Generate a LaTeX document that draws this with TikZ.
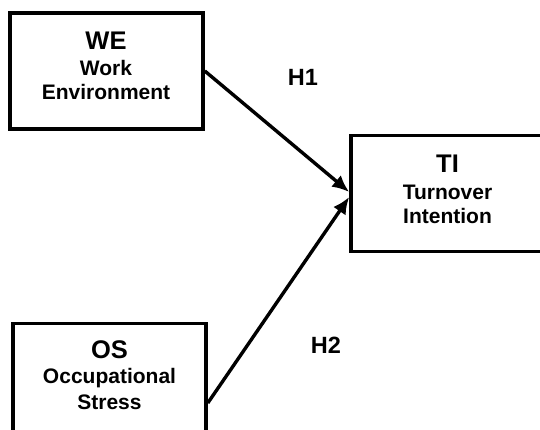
\documentclass[tikz,border=0pt]{standalone}
\usepackage{fontspec}
\setmainfont{Liberation Sans}
\usetikzlibrary{arrows.meta}
\begin{document}
\begin{tikzpicture}[x=1pt,y=-1pt,
  box/.style={draw=black,line width=3.6pt,rectangle,minimum width=193pt,minimum height=116pt,inner sep=0pt},
  ttl/.style={anchor=base,inner sep=0pt,font=\bfseries\fontsize{25.5}{30}\selectfont},
  sub/.style={anchor=base,inner sep=0pt,font=\bfseries\fontsize{21}{25}\selectfont},
  hyp/.style={anchor=base,inner sep=0pt,font=\bfseries\fontsize{23.5}{28}\selectfont},
  conn/.style={line width=3.4pt,-{Latex[length=17pt,width=15pt]}}]
\useasboundingbox (0,0) rectangle (540,430);
\fill[white] (0,0) rectangle (540,430);
\node[box] (we) at (106.5,71) {};
\node[box] (ti) at (447.5,193.5) {};
\node[box] (os) at (109.5,381.5) {};
\node[ttl] (wet) at (106,50) {WE};
\node[sub] (wes1) at (106,76) {Work};
\node[sub] (wes2) at (106,100) {Environment};
\node[ttl] (tit) at (447.5,173) {TI};
\node[sub] (tis1) at (447.5,200) {Turnover};
\node[sub] (tis2) at (447.5,223) {Intention};
\node[ttl] (ost) at (109.5,358) {OS};
\node[sub] (oss1) at (109.5,383) {Occupational};
\node[sub] (oss2) at (109.5,409) {Stress};
\node[hyp] (h1) at (303,86) {H1};
\node[hyp] (h2) at (326,353) {H2};
\draw[conn] ([yshift=0pt]we.east) -- ([yshift=1.5pt]ti.west);
\draw[conn] ([yshift=-21.5pt]os.east) -- ([yshift=-3.5pt]ti.west);
\end{tikzpicture}
\end{document}
